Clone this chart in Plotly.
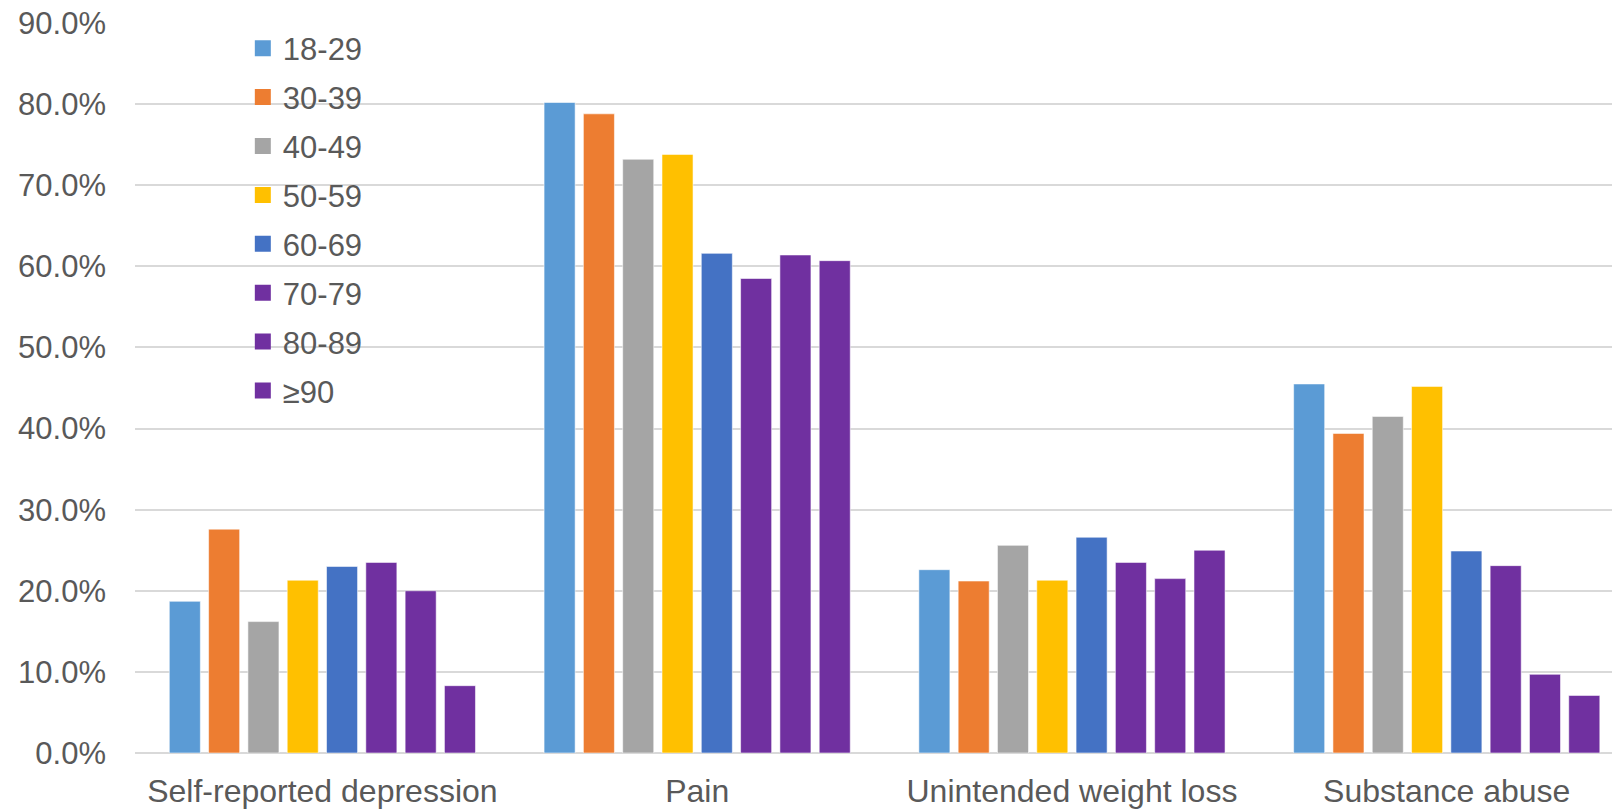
import plotly.graph_objects as go

categories = ["Self-reported depression", "Pain", "Unintended weight loss", "Substance abuse"]
age_groups = ["18-29", "30-39", "40-49", "50-59", "60-69", "70-79", "80-89", "≥90"]
colors = ["#5B9BD5", "#ED7D31", "#A5A5A5", "#FFC000", "#4472C4", "#7030A0", "#7030A0", "#7030A0"]

# percentage of patients per condition, one list per age group
pct_18_29 = [18.7, 80.2, 22.6, 45.5]
pct_30_39 = [27.6, 78.8, 21.2, 39.4]
pct_40_49 = [16.2, 73.2, 25.6, 41.5]
pct_50_59 = [21.3, 73.8, 21.3, 45.2]
pct_60_69 = [23.0, 61.6, 26.6, 24.9]
pct_70_79 = [23.5, 58.5, 23.5, 23.1]
pct_80_89 = [20.0, 61.4, 21.5, 9.7]
pct_90_plus = [8.3, 60.7, 25.0, 7.1]

series = [pct_18_29, pct_30_39, pct_40_49, pct_50_59, pct_60_69, pct_70_79, pct_80_89, pct_90_plus]

fig = go.Figure()
for name, vals, col in zip(age_groups, series, colors):
    fig.add_trace(go.Bar(
        x=categories, y=[v / 100 for v in vals], name=name,
        marker=dict(color=col, line=dict(color="rgba(255,255,255,0.55)", width=1)),
        showlegend=False,
    ))
    # square legend swatch
    fig.add_trace(go.Scatter(
        x=[None], y=[None], mode="markers", name=name, legendgroup=name,
        marker=dict(symbol="square", size=16, color=col),
    ))

text_color = "#595959"
font_family = "Liberation Sans, Arial, sans-serif"

fig.update_layout(
    width=1612, height=809, autosize=False,
    margin=dict(l=135, r=0, t=23, b=56),
    paper_bgcolor="white", plot_bgcolor="white",
    barmode="group", bargap=0.161, bargroupgap=0.21,
    font=dict(family=font_family, color=text_color, size=31),
    legend=dict(
        x=0.073, y=1.002, xanchor="left", yanchor="top",
        font=dict(size=31, color=text_color, family=font_family),
        tracegroupgap=5.6, traceorder="grouped",
        bgcolor="rgba(0,0,0,0)",
    ),
    xaxis=dict(
        range=[-0.5, 3.441], showgrid=False, zeroline=False, showline=False,
        tickfont=dict(size=32, color=text_color), ticks="", ticklabelstandoff=16,
    ),
    yaxis=dict(
        range=[0, 0.9], dtick=0.1, tickformat=".1%",
        showgrid=True, gridcolor="#D9D9D9", gridwidth=1.5,
        zeroline=True, zerolinecolor="#D9D9D9", zerolinewidth=1.5,
        showline=False, ticks="", ticklabelstandoff=28,
        tickfont=dict(size=31, color=text_color),
    ),
)

fig.write_html("out.html")
